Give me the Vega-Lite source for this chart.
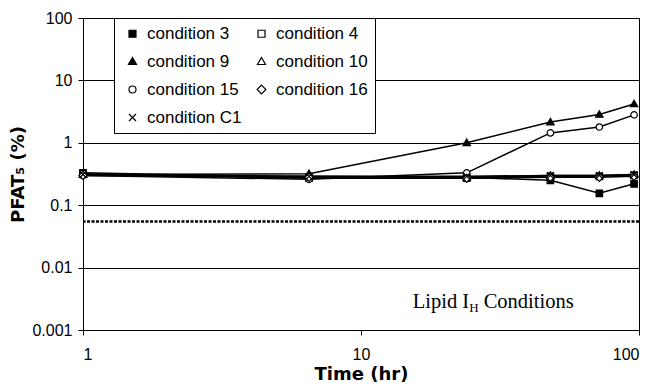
{
  "$schema": "https://vega.github.io/schema/vega-lite/v6.json",
  "width": 556,
  "height": 312,
  "autosize": {"type": "none"},
  "padding": {"left": 83, "top": 18, "right": 14, "bottom": 54},
  "background": "white",
  "config": {
    "view": {"stroke": "black", "strokeWidth": 1},
    "axis": {
      "domainColor": "black",
      "domainWidth": 1,
      "tickColor": "black",
      "tickWidth": 1,
      "tickSize": 5,
      "labelColor": "black",
      "labelFont": "Liberation Sans",
      "labelFontSize": 16,
      "titleColor": "black",
      "titleFont": "DejaVu Sans",
      "titleFontSize": 18,
      "titleFontWeight": "bold"
    },
    "legend": {
      "orient": "none",
      "legendX": 31,
      "legendY": 0,
      "columns": 2,
      "direction": "horizontal",
      "labelFont": "Liberation Sans",
      "labelFontSize": 17,
      "labelColor": "black",
      "symbolSize": 49,
      "symbolStrokeWidth": 1.2,
      "strokeColor": "black",
      "fillColor": "white",
      "padding": 7,
      "rowPadding": 10,
      "columnPadding": 8,
      "labelOffset": 6,
      "symbolOffset": 3
    }
  },
  "datasets": {
    "series": [
      {"condition": "condition 3", "time": 1, "pfat": 0.33},
      {"condition": "condition 3", "time": 6.5, "pfat": 0.28},
      {"condition": "condition 3", "time": 24, "pfat": 0.28},
      {"condition": "condition 3", "time": 48, "pfat": 0.25},
      {"condition": "condition 3", "time": 72, "pfat": 0.155},
      {"condition": "condition 3", "time": 96, "pfat": 0.22},
      {"condition": "condition 4", "time": 1, "pfat": 0.32},
      {"condition": "condition 4", "time": 6.5, "pfat": 0.27},
      {"condition": "condition 4", "time": 24, "pfat": 0.27},
      {"condition": "condition 4", "time": 48, "pfat": 0.29},
      {"condition": "condition 4", "time": 72, "pfat": 0.29},
      {"condition": "condition 4", "time": 96, "pfat": 0.3},
      {"condition": "condition 9", "time": 1, "pfat": 0.31},
      {"condition": "condition 9", "time": 6.5, "pfat": 0.32},
      {"condition": "condition 9", "time": 24, "pfat": 1.0},
      {"condition": "condition 9", "time": 48, "pfat": 2.15},
      {"condition": "condition 9", "time": 72, "pfat": 2.85},
      {"condition": "condition 9", "time": 96, "pfat": 4.2},
      {"condition": "condition 10", "time": 1, "pfat": 0.31},
      {"condition": "condition 10", "time": 6.5, "pfat": 0.29},
      {"condition": "condition 10", "time": 24, "pfat": 0.28},
      {"condition": "condition 10", "time": 48, "pfat": 0.3},
      {"condition": "condition 10", "time": 72, "pfat": 0.3},
      {"condition": "condition 10", "time": 96, "pfat": 0.31},
      {"condition": "condition 15", "time": 1, "pfat": 0.3},
      {"condition": "condition 15", "time": 6.5, "pfat": 0.26},
      {"condition": "condition 15", "time": 24, "pfat": 0.33},
      {"condition": "condition 15", "time": 48, "pfat": 1.44},
      {"condition": "condition 15", "time": 72, "pfat": 1.79},
      {"condition": "condition 15", "time": 96, "pfat": 2.8},
      {"condition": "condition 16", "time": 1, "pfat": 0.3},
      {"condition": "condition 16", "time": 6.5, "pfat": 0.28},
      {"condition": "condition 16", "time": 24, "pfat": 0.27},
      {"condition": "condition 16", "time": 48, "pfat": 0.28},
      {"condition": "condition 16", "time": 72, "pfat": 0.28},
      {"condition": "condition 16", "time": 96, "pfat": 0.29},
      {"condition": "condition C1", "time": 1, "pfat": 0.31},
      {"condition": "condition C1", "time": 6.5, "pfat": 0.29},
      {"condition": "condition C1", "time": 24, "pfat": 0.29},
      {"condition": "condition C1", "time": 48, "pfat": 0.3},
      {"condition": "condition C1", "time": 72, "pfat": 0.3},
      {"condition": "condition C1", "time": 96, "pfat": 0.31}
    ],
    "limit": [{"pfat": 0.055}],
    "note": [{"time": 24.5, "pfat": 0.00225, "main": "Lipid I", "sub": "H", "rest": "Conditions"}]
  },
  "layer": [
    {
      "data": {"name": "limit"},
      "mark": {"type": "rule", "color": "black", "strokeWidth": 2.5, "strokeDash": [3, 1.5]},
      "encoding": {
        "y": {
          "field": "pfat", "type": "quantitative",
          "scale": {"type": "log", "domain": [0.001, 100], "nice": false},
          "axis": {"values": [0.001, 0.01, 0.1, 1, 10, 100], "format": "~g", "grid": true, "gridColor": "black", "gridWidth": 1, "gridOpacity": 1, "labelPadding": 6, "titlePadding": 4, "title": "PFAT₅  (%)"}
        }
      }
    },
    {
      "data": {"name": "series"},
      "mark": {"type": "line", "color": "black", "strokeWidth": 1.5},
      "encoding": {
        "x": {
          "field": "time", "type": "quantitative",
          "scale": {"type": "log", "domain": [1, 100], "nice": false},
          "axis": {"values": [1, 10, 100], "format": "~g", "grid": false, "labelPadding": 11, "titlePadding": 3, "title": "Time (hr)"}
        },
        "y": {
          "field": "pfat", "type": "quantitative",
          "scale": {"type": "log", "domain": [0.001, 100], "nice": false},
          "axis": {"values": [0.001, 0.01, 0.1, 1, 10, 100], "format": "~g", "grid": true, "gridColor": "black", "gridWidth": 1, "gridOpacity": 1, "labelPadding": 6, "titlePadding": 4, "title": "PFAT₅  (%)"}
        },
        "detail": {"field": "condition", "type": "nominal"}
      }
    },
    {
      "data": {"name": "series"},
      "mark": {"type": "point", "filled": true, "opacity": 1, "size": 42, "strokeWidth": 1.2},
      "encoding": {
        "x": {
          "field": "time", "type": "quantitative",
          "scale": {"type": "log", "domain": [1, 100], "nice": false},
          "axis": {"values": [1, 10, 100], "format": "~g", "grid": false, "labelPadding": 11, "titlePadding": 3, "title": "Time (hr)"}
        },
        "y": {
          "field": "pfat", "type": "quantitative",
          "scale": {"type": "log", "domain": [0.001, 100], "nice": false},
          "axis": {"values": [0.001, 0.01, 0.1, 1, 10, 100], "format": "~g", "grid": true, "gridColor": "black", "gridWidth": 1, "gridOpacity": 1, "labelPadding": 6, "titlePadding": 4, "title": "PFAT₅  (%)"}
        },
        "shape": {
          "field": "condition", "type": "nominal",
          "scale": {
            "domain": ["condition 3", "condition 4", "condition 9", "condition 10", "condition 15", "condition 16", "condition C1"],
            "range": [
              "M-1,-1H1V1H-1Z",
              "M-1,-1H1V1H-1Z",
              "M0,-1.15L1.15,0.85H-1.15Z",
              "M0,-1.15L1.15,0.85H-1.15Z",
              "M1,0A1,1,0,1,1,-1,0A1,1,0,1,1,1,0Z",
              "M0,-1.25L1.25,0L0,1.25L-1.25,0Z",
              "M-1,-1L1,1M-1,1L1,-1"
            ]
          },
          "legend": {"title": null}
        },
        "fill": {
          "field": "condition", "type": "nominal",
          "scale": {
            "domain": ["condition 3", "condition 4", "condition 9", "condition 10", "condition 15", "condition 16", "condition C1"],
            "range": ["black", "white", "black", "white", "white", "white", "white"]
          },
          "legend": {"title": null}
        },
        "stroke": {
          "field": "condition", "type": "nominal",
          "scale": {
            "domain": ["condition 3", "condition 4", "condition 9", "condition 10", "condition 15", "condition 16", "condition C1"],
            "range": ["black", "black", "black", "black", "black", "black", "black"]
          },
          "legend": {"title": null}
        }
      }
    },
    {
      "data": {"name": "note"},
      "mark": {"type": "text", "font": "Liberation Serif", "fontSize": 20.5, "align": "right", "baseline": "alphabetic", "color": "black"},
      "encoding": {
        "x": {"field": "time", "type": "quantitative", "scale": {"type": "log", "domain": [1, 100], "nice": false}},
        "y": {"field": "pfat", "type": "quantitative", "scale": {"type": "log", "domain": [0.001, 100], "nice": false}},
        "text": {"field": "main"}
      }
    },
    {
      "data": {"name": "note"},
      "mark": {"type": "text", "font": "Liberation Serif", "fontSize": 13, "align": "left", "baseline": "alphabetic", "dy": 4, "color": "black"},
      "encoding": {
        "x": {"field": "time", "type": "quantitative", "scale": {"type": "log", "domain": [1, 100], "nice": false}},
        "y": {"field": "pfat", "type": "quantitative", "scale": {"type": "log", "domain": [0.001, 100], "nice": false}},
        "text": {"field": "sub"}
      }
    },
    {
      "data": {"name": "note"},
      "mark": {"type": "text", "font": "Liberation Serif", "fontSize": 20.5, "align": "left", "baseline": "alphabetic", "dx": 14.5, "color": "black"},
      "encoding": {
        "x": {"field": "time", "type": "quantitative", "scale": {"type": "log", "domain": [1, 100], "nice": false}},
        "y": {"field": "pfat", "type": "quantitative", "scale": {"type": "log", "domain": [0.001, 100], "nice": false}},
        "text": {"field": "rest"}
      }
    }
  ]
}
